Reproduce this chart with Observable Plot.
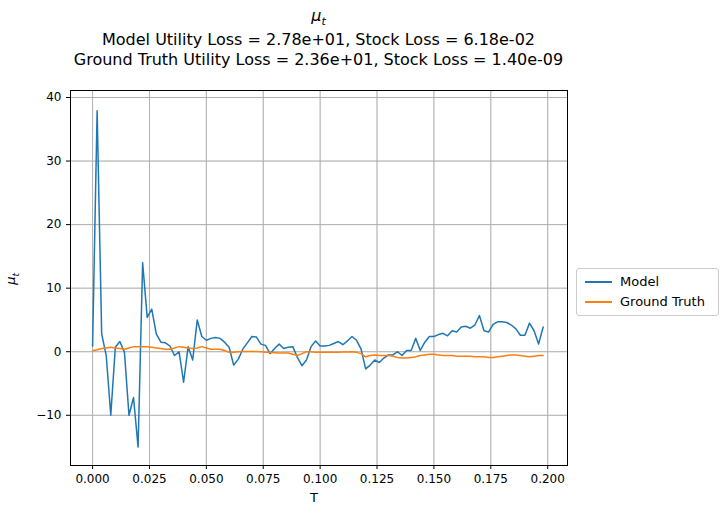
<!DOCTYPE html>
<html>
<head>
<meta charset="utf-8">
<script src="https://cdn.jsdelivr.net/npm/d3@7"></script>
<script src="https://cdn.jsdelivr.net/npm/@observablehq/plot@0.6"></script>
<style>
  body { margin: 0; font-family: "DejaVu Sans", sans-serif; }
  #wrap { position: relative; width: 726px; height: 517px; background: white; }
  .t { position: absolute; left: 70px; width: 497px; text-align: center; font-size: 16px; color: #000; }
  #legend { position: absolute; left: 576px; top: 268px; width: 141px; height: 46px; border: 1px solid #ccc; border-radius: 3px; font-size: 13px; background: white; }
  .li { position: absolute; left: 8px; display: flex; align-items: center; }
  .li span.sw { display: inline-block; width: 27px; height: 2px; margin-right: 8px; }
</style>
</head>
<body>
<div id="wrap">
  <div class="t" style="top:6px;"><i>μ</i><sub style="font-size:11px"><i>t</i></sub></div>
  <div class="t" style="top:30px;">Model Utility Loss = 2.78e+01, Stock Loss = 6.18e-02</div>
  <div class="t" style="top:50px;">Ground Truth Utility Loss = 2.36e+01, Stock Loss = 1.40e-09</div>
  <div style="position:absolute;left:310px;top:490px;font-size:13px;">T</div>
  <div style="position:absolute;left:6px;top:270px;font-size:13px;transform:rotate(-90deg);"><i>μ</i><sub style="font-size:9px"><i>t</i></sub></div>
  <div id="chart"></div>
  <div id="legend">
    <div class="li" style="top:5px;"><span class="sw" style="background:#1f77b4"></span>Model</div>
    <div class="li" style="top:25px;"><span class="sw" style="background:#ff7f0e"></span>Ground Truth</div>
  </div>
</div>
<script>
var step = 0.002
var model = [0.9, 37.9, 2.8, -0.6, -10, 0.7, 1.6, -0.1, -10, -7.2,
  -15, 14, 5.4, 6.7, 2.8, 1.5, 1.4, 0.9, -0.6, 0,
  -4.8, 0.8, -1.3, 5.0, 2.4, 1.8, 2.1, 2.25, 2.1, 1.5,
  0.7, -2.1, -1.2, 0.4, 1.4, 2.4, 2.3, 1.2, 1.0, -0.3,
  0.5, 1.2, 0.5, 0.7, 0.8, -0.9, -2.2, -1.3, 0.8, 1.7,
  0.9, 0.9, 1.0, 1.3, 1.6, 1.1, 1.7, 2.4, 1.8, 0.4,
  -2.7, -2.1, -1.3, -1.7, -1.0, -0.5, -0.5, 0, -0.6, 0.2,
  0.2, 2.1, 0.2, 1.5, 2.4, 2.4, 2.7, 2.9, 2.5, 3.3,
  3.1, 3.9, 4.0, 3.7, 4.2, 5.7, 3.3, 3.1, 4.3, 4.7,
  4.7, 4.6, 4.2, 3.6, 2.6, 2.6, 4.5, 3.3, 1.2, 3.9]
var truth = [0.15, 0.3, 0.5, 0.6, 0.7, 0.6, 0.5, 0.4, 0.6, 0.8,
  0.8, 0.8, 0.8, 0.7, 0.6, 0.5, 0.4, 0.4, 0.6, 0.8,
  0.7, 0.6, 0.5, 0.6, 0.8, 0.6, 0.4, 0.4, 0.4, 0.2,
  -0.1, -0.1, 0, 0.05, 0.05, 0.05, 0.05, 0, -0.1, -0.1,
  -0.15, -0.2, -0.2, -0.2, -0.4, -0.6, -0.3, 0, 0, -0.1,
  -0.1, -0.1, -0.1, -0.1, -0.1, -0.05, -0.05, 0, -0.1, -0.3,
  -0.8, -0.6, -0.5, -0.6, -0.6, -0.6, -0.7, -0.9, -1.0, -1.0,
  -0.9, -0.8, -0.6, -0.5, -0.4, -0.4, -0.5, -0.6, -0.6, -0.6,
  -0.7, -0.7, -0.7, -0.7, -0.8, -0.8, -0.8, -0.9, -0.9, -0.8,
  -0.7, -0.6, -0.5, -0.5, -0.6, -0.7, -0.8, -0.7, -0.6, -0.6]

var rows = []
model.forEach((v, i) => rows.push({T: i * step, v: v, s: "Model"}))
truth.forEach((v, i) => rows.push({T: i * step, v: v, s: "Ground Truth"}))

var chart = Plot.plot({
  width: 726,
  height: 517,
  marginTop: 90,
  marginBottom: 52,
  marginLeft: 70,
  marginRight: 159,
  style: {fontSize: "12px", fontFamily: "DejaVu Sans, sans-serif", color: "#000"},
  x: {domain: [-0.0097, 0.2087], ticks: d3.range(0, 0.2001, 0.025), tickFormat: d3.format(".3f"), label: null, grid: true, tickSize: 4},
  y: {domain: [-17.9, 41.1], ticks: [-10, 0, 10, 20, 30, 40], label: null, grid: true, tickSize: 4},
  color: {domain: ["Model", "Ground Truth"], range: ["#1f77b4", "#ff7f0e"]},
  marks: [
    Plot.gridX(d3.range(0, 0.2001, 0.025), {stroke: "#b0b0b0", strokeOpacity: 1}),
    Plot.gridY([-10, 0, 10, 20, 30, 40], {stroke: "#b0b0b0", strokeOpacity: 1}),
    Plot.line(rows, {x: "T", y: "v", z: "s", stroke: "s", strokeWidth: 1.5}),
    Plot.frame({stroke: "black"})
  ]
})
d3.select("#chart").append(() => chart)
</script>
</body>
</html>
